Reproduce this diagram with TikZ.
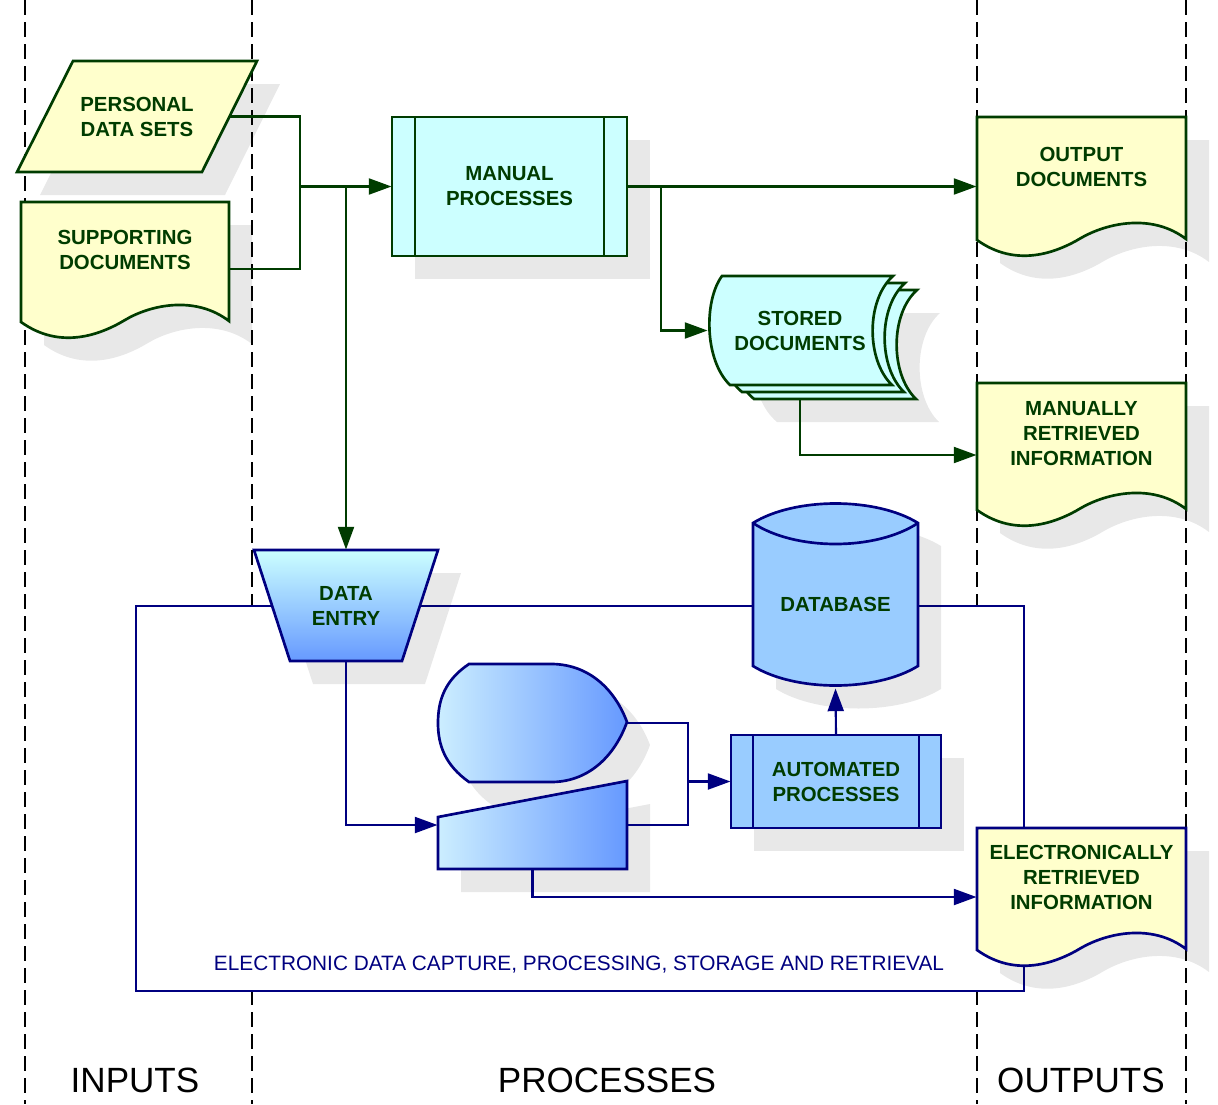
\documentclass[tikz,border=0pt]{standalone}
\usepackage{fontspec}
\setmainfont{Liberation Sans}
\usetikzlibrary{arrows.meta,calc}

\definecolor{lngreen}{RGB}{0,60,0}
\definecolor{lnnavy}{RGB}{0,0,128}
\definecolor{docyellow}{RGB}{255,255,204}
\definecolor{mancyan}{RGB}{204,255,255}
\definecolor{autoblue}{RGB}{153,204,255}
\definecolor{gradlight}{RGB}{204,238,255}
\definecolor{graddark}{RGB}{102,153,255}

\tikzset{every picture/.style={line width=0.75pt}}
\tikzset{
  lane/.style={draw=black, line width=1.1pt, dash pattern=on 11pt off 5.5pt},
  greenline/.style={draw=lngreen, line width=2pt},
  blueline/.style={draw=lnnavy, line width=2pt},
  gconn/.style={draw=lngreen, line width=1.6pt},
  bconn/.style={draw=lnnavy, line width=1.6pt},
  arr/.style={-{Triangle[length=17pt,width=12pt]}},
  shdw/.style={preaction={fill=black, fill opacity=0.09, transform canvas={shift={(23,-23)}}}},
  lbl/.style={align=center, inner sep=0pt, text=lngreen, font=\fontsize{15.3}{18.75}\selectfont\bfseries},
  lanelbl/.style={inner sep=0pt, font=\fontsize{26.3}{30}\selectfont},
}

\begin{document}
\begin{tikzpicture}[x=0.75pt,y=0.75pt,yscale=-1,xscale=1]
\useasboundingbox (0,0) rectangle (1218,1104);
\fill[white] (0,0) rectangle (1218,1104);

%Lanes
\draw[lane] (25,0) -- (25,1104);
\draw[lane] (252,0) -- (252,1104);
\draw[lane] (977,0) -- (977,1104);
\draw[lane] (1186,0) -- (1186,1104);

%Frame of the electronic part
\draw[draw=lnnavy, fill=white, line width=1.1pt] (136,606) -- (1024,606) -- (1024,991) -- (136,991) -- cycle;

%Shape: Data [personal data sets]
\draw[greenline, fill=docyellow, shdw] (73,61) -- (257,61) -- (202,172) -- (17,172) -- cycle;
%Shape: Document [supporting documents]
\draw[greenline, fill=docyellow, shdw] (21,202) -- (229,202) -- (229,321) .. controls (195,295) and (150,305) .. (125,320) .. controls (100,335) and (60,350) .. (21,322) -- cycle;
%Shape: Predefined process [manual]
\draw[greenline, fill=mancyan, shdw] (392,117) -- (627,117) -- (627,256) -- (392,256) -- cycle;
\draw[greenline] (415,117) -- (415,256) (604,117) -- (604,256);
%Shape: Stored data x3
\draw[greenline, fill=mancyan, shdw] (746,290) -- (917,290) .. controls (890,314) and (890,374) .. (916,399) -- (754,399) .. controls (724,374) and (724,314) .. (746,290) -- cycle;
\draw[greenline, fill=mancyan] (734,283) -- (905,283) .. controls (878,307) and (878,367) .. (904,392) -- (742,392) .. controls (712,367) and (712,307) .. (734,283) -- cycle;
\draw[greenline, fill=mancyan] (722,276) -- (893,276) .. controls (866,300) and (866,360) .. (892,385) -- (730,385) .. controls (704,360) and (704,300) .. (722,276) -- cycle;
%Shape: Document [output]
\draw[greenline, fill=docyellow, shdw] (977,117) -- (1186,117) -- (1186,239) .. controls (1152,213) and (1107,223) .. (1081,238) .. controls (1056,253) and (1016,268) .. (977,240) -- cycle;
%Shape: Document [manually retrieved]
\draw[greenline, fill=docyellow, shdw] (977,383) -- (1186,383) -- (1186,509) .. controls (1152,483) and (1107,493) .. (1081,508) .. controls (1056,523) and (1016,538) .. (977,510) -- cycle;
%Shape: Document [electronically retrieved]
\draw[blueline, fill=docyellow, shdw] (977,828) -- (1186,828) -- (1186,949) .. controls (1152,923) and (1107,933) .. (1081,948) .. controls (1056,963) and (1016,978) .. (977,950) -- cycle;
%Shape: Manual operation [data entry]
\draw[blueline, top color=mancyan, bottom color=graddark, shdw] (254,550) -- (438,550) -- (402,661) -- (290,661) -- cycle;
%Shape: Display
\draw[blueline, left color=gradlight, right color=graddark, shdw] (469,664) -- (553,664) .. controls (590,665) and (615,690) .. (627,722) .. controls (615,755) and (590,781) .. (553,782) -- (469,782) .. controls (445,765) and (438,745) .. (438,723) .. controls (438,700) and (445,680) .. (469,664) -- cycle;
%Shape: Manual input
\draw[blueline, left color=gradlight, right color=graddark, shdw] (438,817) -- (627,781) -- (627,869) -- (438,869) -- cycle;
%Shape: Predefined process [automated]
\draw[blueline, fill=autoblue, shdw] (731,735) -- (941,735) -- (941,828) -- (731,828) -- cycle;
\draw[blueline] (753,735) -- (753,828) (919,735) -- (919,828);
%Shape: Database
\draw[blueline, fill=autoblue, shdw] (753,523) .. controls (795,497) and (876,497) .. (918,523) -- (918,666) .. controls (876,692) and (795,692) .. (753,666) -- cycle;
\draw[blueline] (753,523) .. controls (795,551) and (876,551) .. (918,523);

%Labels
\node[lbl, minimum width=138.75pt, minimum height=83.25pt] (pds) at (137,116.5) {PERSONAL\\DATA SETS};
\node[lbl, minimum width=156pt, minimum height=72pt] (sd) at (125,250) {SUPPORTING\\DOCUMENTS};
\node[lbl, minimum width=176.25pt, minimum height=104.25pt] (mp) at (509.5,186.5) {MANUAL\\PROCESSES};
\node[lbl, minimum width=138pt, minimum height=81.75pt] (st) at (800,330.5) {STORED\\DOCUMENTS};
\node[lbl, minimum width=156.75pt] (od) at (1081.5,166.5) {OUTPUT\\DOCUMENTS};
\node[lbl, minimum width=156.75pt] (mri) at (1081.5,434) {MANUALLY\\RETRIEVED\\INFORMATION};
\node[lbl, minimum width=156.75pt] (eri) at (1081.5,877) {ELECTRONICALLY\\RETRIEVED\\INFORMATION};
\node[lbl, minimum width=138pt, minimum height=83.25pt] (de) at (346,605.5) {DATA\\ENTRY};
\node[lbl, minimum width=141.75pt, minimum height=88.5pt] (dsp) at (532.5,723) {};
\node[lbl, minimum width=141.75pt, minimum height=66pt] (mi) at (532.5,825) {};
\node[lbl, minimum width=157.5pt, minimum height=69.75pt] (ap) at (836,781.5) {AUTOMATED\\PROCESSES};
\node[lbl, minimum width=123.75pt, minimum height=126pt] (db) at (835.5,604) {DATABASE};
\node[inner sep=0pt, text=lnnavy, font=\fontsize{15.6}{18}\selectfont] (cap) at (579,965) {ELECTRONIC DATA CAPTURE, PROCESSING, STORAGE AND RETRIEVAL};
\node[lanelbl] (lin) at (135,1080) {INPUTS};
\node[lanelbl] (lproc) at (607,1080) {PROCESSES};
\node[lanelbl] (lout) at (1081,1080) {OUTPUTS};

%Connectors
\coordinate (jn) at (300,186.5);
\coordinate (br) at (661,186.5);
\coordinate (mj) at (688,781.5);
\draw[gconn] (pds.east) -| (jn);
\draw[gconn] ($(sd.east)+(0,19)$) -| (jn);
\draw[gconn, arr] (jn) -- (mp.west);
\draw[gconn, arr] (jn -| de.north) -- (de.north);
\draw[gconn, arr] (mp.east) -- (mp.east -| od.west);
\draw[gconn, arr] (br) |- (st.west);
\draw[gconn, arr] ($(st.south)+(0,14)$) |- ($(mri.west)+(0,21)$);
\draw[bconn, arr] (de.south) |- (mi.west);
\draw[bconn] (dsp.east) -| (mj);
\draw[bconn] (mi.east) -| (mj);
\draw[bconn, arr] (mj) -- (ap.west);
\draw[bconn, arr] (ap.north) -- (db.south);
\draw[bconn, arr] (mi.south) |- ($(eri.west)+(0,20)$);
\end{tikzpicture}
\end{document}
